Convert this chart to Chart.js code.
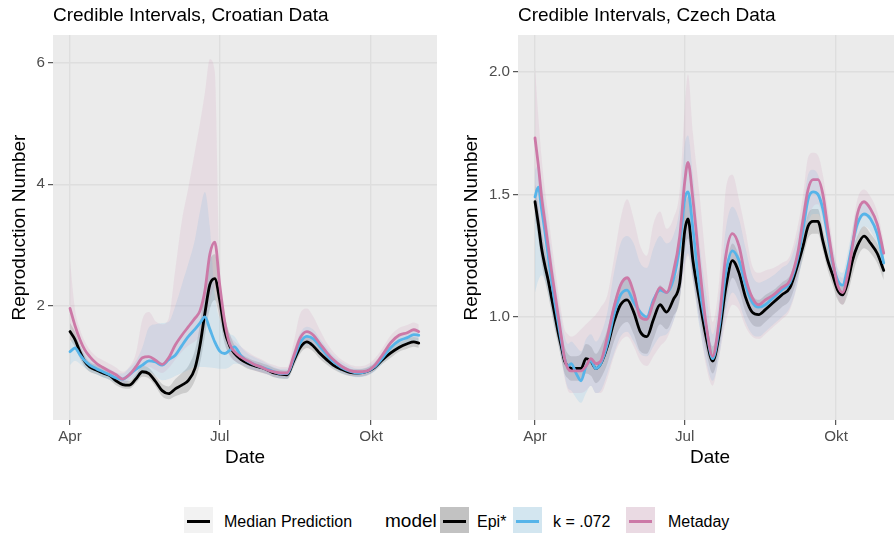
<!DOCTYPE html>
<html>
<head>
<meta charset="utf-8">
<script src="https://cdn.jsdelivr.net/npm/chart.js@4.4.1/dist/chart.umd.min.js"></script>
<style>
  html, body { margin: 0; padding: 0; background: #fff; }
  body { width: 894px; height: 533px; overflow: hidden; position: relative;
         font-family: "Liberation Sans", Arial, sans-serif; }
  canvas { position: absolute; top: 0; }
  .ttl { position: absolute; top: 5px; font-size: 19px; line-height: 19px; color: #000; white-space: nowrap; }
  .lg { position: absolute; top: 512px; font-size: 16px; line-height: 20px; color: #000; white-space: nowrap; }
  .lgt { position: absolute; top: 510px; font-size: 19px; line-height: 22px; color: #000; white-space: nowrap; }
  .key { position: absolute; top: 507px; width: 29px; height: 29px; }
  .key i { position: absolute; left: 3px; right: 3px; top: 13px; height: 3px; }
</style>
</head>
<body>
<canvas id="hr" width="447" height="480" style="left:0"></canvas>
<canvas id="cz" width="462" height="480" style="left:447px"></canvas>
<div class="ttl" style="left:53px">Credible Intervals, Croatian Data</div>
<div class="ttl" style="left:518px">Credible Intervals, Czech Data</div>

<div class="key" style="left:184px;background:#F2F2F2"><i style="background:#000"></i></div>
<div class="lg" style="left:224px">Median Prediction</div>
<div class="lgt" style="left:385px">model</div>
<div class="key" style="left:440px;background:#C2C2C2"><i style="background:#000"></i></div>
<div class="lg" style="left:477px">Epi*</div>
<div class="key" style="left:513px;background:#D3E6F0"><i style="background:#56B4E9"></i></div>
<div class="lg" style="left:553px">k = .072</div>
<div class="key" style="left:626px;background:#EADAE3"><i style="background:#CC79A7"></i></div>
<div class="lg" style="left:668px">Metaday</div>

<script>
// days since 1 April
var tickDays = [0, 91, 183];
var tickLabels = ['Apr', 'Jul', 'Okt'];

// ---- Croatian data ----
var hrDays = [0,3,6,9,12,16,20,24,28,32, 36,40,44,48,52,56,60,64,68,72,
  76,79,82,85,88,91,94,97,100,104, 108,112,116,120,124,128,132,136,140,144,
  148,152,156,160,165,170,175,180,185,190, 195,200,205,209,212];
var hrYTicks = [2, 4, 6];
var hrYLabels = ['2', '4', '6'];

var hrEpi = [1.58,1.45,1.25,1.09,1.00,0.95,0.90,0.86,0.77,0.71,
  0.70,0.80,0.92,0.89,0.76,0.61,0.56,0.64,0.70,0.78,
  0.98,1.35,1.88,2.35,2.45,2.10,1.60,1.35,1.22,1.12,
  1.06,1.02,0.99,0.95,0.90,0.88,0.87,1.10,1.32,1.41,
  1.34,1.22,1.12,1.03,0.96,0.91,0.90,0.92,0.99,1.12,
  1.23,1.32,1.38,1.41,1.39];
var hrEpiLo = [1.45,1.33,1.14,1.00,0.92,0.88,0.83,0.79,0.70,0.65,
  0.64,0.73,0.84,0.81,0.68,0.52,0.47,0.52,0.56,0.60,
  0.78,1.05,1.50,1.95,2.10,1.80,1.38,1.20,1.10,1.03,
  0.97,0.94,0.91,0.88,0.83,0.81,0.80,1.00,1.22,1.31,
  1.25,1.13,1.04,0.96,0.89,0.85,0.84,0.86,0.93,1.05,
  1.15,1.25,1.30,1.33,1.31];
var hrEpiHi = [1.72,1.58,1.36,1.18,1.08,1.03,0.97,0.93,0.84,0.78,
  0.77,0.88,1.01,0.98,0.85,0.72,0.68,0.80,0.90,1.02,
  1.28,1.70,2.35,2.75,2.85,2.40,1.85,1.55,1.36,1.22,
  1.15,1.10,1.07,1.03,0.98,0.95,0.94,1.20,1.43,1.52,
  1.44,1.31,1.20,1.10,1.03,0.97,0.96,0.98,1.05,1.19,
  1.31,1.40,1.46,1.49,1.47];

var hrK = [1.25,1.31,1.20,1.10,1.03,0.97,0.92,0.87,0.82,0.80,
  0.87,0.96,1.03,1.10,1.08,1.03,1.12,1.19,1.35,1.50,
  1.62,1.72,1.82,1.62,1.41,1.26,1.22,1.27,1.33,1.18,
  1.09,1.04,1.00,0.96,0.92,0.89,0.89,1.14,1.40,1.50,
  1.46,1.33,1.20,1.09,0.99,0.93,0.90,0.92,1.00,1.15,
  1.32,1.43,1.48,1.53,1.52];
var hrKLo = [1.03,1.10,1.05,0.98,0.93,0.88,0.83,0.79,0.74,0.71,
  0.77,0.84,0.88,0.92,0.85,0.78,0.80,0.85,0.90,0.95,
  1.00,1.00,1.00,0.99,0.98,0.97,0.97,1.00,1.05,1.04,
  0.99,0.95,0.92,0.88,0.84,0.81,0.81,1.02,1.27,1.36,
  1.32,1.20,1.08,0.99,0.90,0.86,0.83,0.85,0.92,1.06,
  1.22,1.33,1.38,1.43,1.42];
var hrKHi = [1.40,1.48,1.35,1.22,1.13,1.06,1.01,0.97,0.91,0.89,
  0.98,1.10,1.32,1.65,1.70,1.72,1.74,2.00,2.35,2.70,
  3.10,3.55,3.87,3.30,2.20,1.78,1.68,1.55,1.50,1.33,
  1.22,1.16,1.11,1.05,1.00,0.97,0.97,1.27,1.56,1.66,
  1.61,1.46,1.32,1.19,1.08,1.01,0.97,0.99,1.08,1.24,
  1.42,1.53,1.58,1.63,1.62];

var hrMeta = [1.96,1.68,1.45,1.28,1.17,1.06,0.99,0.93,0.87,0.80,
  0.87,1.00,1.15,1.17,1.11,1.04,1.15,1.36,1.52,1.66,
  1.80,1.92,2.25,2.85,3.05,2.35,1.75,1.38,1.25,1.16,
  1.10,1.04,1.00,0.95,0.92,0.90,0.90,1.18,1.48,1.58,
  1.52,1.38,1.24,1.12,1.01,0.94,0.92,0.93,1.02,1.20,
  1.40,1.52,1.56,1.61,1.58];
var hrMetaLo = [1.70,1.48,1.30,1.15,1.04,0.94,0.89,0.84,0.78,0.72,
  0.78,0.89,1.00,1.00,0.95,0.90,0.98,1.12,1.25,1.35,
  1.42,1.50,1.65,2.10,2.30,1.85,1.45,1.18,1.10,1.04,
  0.99,0.94,0.91,0.87,0.84,0.82,0.82,1.05,1.32,1.42,
  1.37,1.24,1.12,1.02,0.92,0.86,0.84,0.85,0.94,1.10,
  1.28,1.40,1.45,1.49,1.47];
var hrMetaHi = [2.75,1.95,1.62,1.42,1.28,1.17,1.11,1.05,0.99,0.92,
  1.00,1.22,1.78,1.90,1.75,1.70,1.80,2.60,3.40,3.95,
  4.55,5.00,5.50,6.05,5.85,2.70,1.85,1.55,1.42,1.33,
  1.25,1.18,1.13,1.07,1.03,1.00,1.00,1.40,1.88,1.96,
  1.82,1.60,1.40,1.25,1.12,1.04,1.01,1.03,1.13,1.31,
  1.52,1.64,1.69,1.73,1.70];

// ---- Czech data ----
var czDays = [0,2,4,6,8,10,12,14,16,18, 20,22,25,28,31,34,37,40,44,48,
  52,56,60,64,68,72,76,80,84,88, 91,93,96,100,104,108,112,116,120,124,
  128,132,136,140,145,150,155,160,163,166, 169,172,175,178,181,184,187,190,193,196,
  200,204,208,212];
var czYTicks = [1.0, 1.5, 2.0];
var czYLabels = ['1.0', '1.5', '2.0'];

var czEpi = [1.47,1.38,1.28,1.21,1.15,1.08,1.01,0.94,0.88,0.82,
  0.80,0.79,0.79,0.79,0.83,0.82,0.79,0.81,0.88,0.98,
  1.05,1.07,1.02,0.94,0.92,0.99,1.05,1.02,1.07,1.14,
  1.35,1.40,1.23,1.07,0.92,0.82,0.93,1.12,1.23,1.18,
  1.08,1.02,1.01,1.03,1.06,1.09,1.12,1.22,1.29,1.37,
  1.39,1.39,1.31,1.23,1.17,1.11,1.09,1.14,1.23,1.29,
  1.33,1.30,1.26,1.19];
var czEpiLo = [1.40,1.32,1.22,1.15,1.09,1.02,0.95,0.89,0.83,0.77,
  0.75,0.74,0.74,0.74,0.77,0.76,0.73,0.75,0.81,0.90,
  0.96,0.98,0.93,0.86,0.85,0.91,0.97,0.95,1.00,1.07,
  1.27,1.32,1.16,1.00,0.86,0.77,0.87,1.05,1.16,1.11,
  1.02,0.97,0.96,0.98,1.01,1.04,1.07,1.17,1.24,1.32,
  1.34,1.34,1.27,1.19,1.13,1.07,1.05,1.09,1.17,1.24,
  1.28,1.26,1.22,1.15];
var czEpiHi = [1.54,1.45,1.35,1.28,1.21,1.14,1.07,1.00,0.94,0.88,
  0.85,0.84,0.84,0.85,0.89,0.88,0.85,0.88,0.95,1.06,
  1.14,1.16,1.11,1.03,1.00,1.07,1.13,1.10,1.15,1.22,
  1.44,1.49,1.31,1.14,0.99,0.88,0.99,1.19,1.30,1.25,
  1.16,1.09,1.07,1.09,1.11,1.14,1.17,1.27,1.34,1.42,
  1.44,1.44,1.36,1.28,1.21,1.15,1.13,1.20,1.27,1.33,
  1.37,1.34,1.30,1.23];

var czK = [1.49,1.53,1.44,1.35,1.25,1.15,1.06,0.98,0.90,0.83,
  0.80,0.81,0.77,0.74,0.80,0.82,0.79,0.81,0.89,1.01,
  1.09,1.11,1.06,1.02,1.00,1.07,1.11,1.10,1.15,1.29,
  1.48,1.51,1.36,1.12,0.96,0.83,0.96,1.18,1.27,1.23,
  1.13,1.06,1.04,1.05,1.08,1.11,1.14,1.25,1.36,1.48,
  1.51,1.50,1.44,1.33,1.22,1.15,1.13,1.20,1.30,1.38,
  1.42,1.40,1.34,1.22];
var czKLo = [1.10,1.15,1.17,1.15,1.10,1.03,0.96,0.90,0.83,0.76,
  0.71,0.70,0.67,0.65,0.69,0.72,0.69,0.70,0.77,0.85,
  0.92,0.94,0.90,0.85,0.84,0.88,0.92,0.93,0.98,1.08,
  1.22,1.26,1.15,0.96,0.82,0.74,0.84,1.02,1.10,1.06,
  0.98,0.93,0.92,0.94,0.97,1.00,1.04,1.15,1.26,1.38,
  1.42,1.42,1.37,1.26,1.16,1.10,1.08,1.14,1.24,1.32,
  1.37,1.35,1.29,1.17];
var czKHi = [1.60,1.62,1.55,1.46,1.36,1.26,1.16,1.07,0.99,0.92,
  0.89,0.90,0.88,0.86,0.91,0.93,0.90,0.93,1.02,1.18,
  1.30,1.33,1.30,1.22,1.20,1.28,1.33,1.30,1.33,1.45,
  1.70,1.74,1.58,1.30,1.10,0.93,1.08,1.36,1.45,1.40,
  1.28,1.17,1.14,1.15,1.17,1.20,1.23,1.34,1.45,1.58,
  1.60,1.58,1.51,1.40,1.28,1.20,1.18,1.26,1.36,1.44,
  1.47,1.45,1.39,1.27];

var czMeta = [1.73,1.62,1.49,1.39,1.29,1.19,1.10,1.01,0.92,0.83,
  0.79,0.78,0.78,0.78,0.80,0.83,0.81,0.82,0.92,1.04,
  1.13,1.16,1.10,1.00,0.99,1.06,1.12,1.10,1.18,1.33,
  1.55,1.63,1.48,1.21,0.97,0.84,0.99,1.25,1.34,1.29,
  1.16,1.08,1.05,1.07,1.09,1.12,1.15,1.27,1.40,1.52,
  1.56,1.56,1.50,1.36,1.23,1.13,1.10,1.17,1.29,1.42,
  1.47,1.44,1.38,1.26];
var czMetaLo = [1.45,1.40,1.32,1.24,1.16,1.07,0.99,0.91,0.83,0.75,
  0.70,0.69,0.69,0.69,0.70,0.72,0.69,0.69,0.75,0.84,
  0.90,0.92,0.88,0.82,0.80,0.84,0.88,0.91,0.98,1.08,
  1.20,1.25,1.15,0.97,0.80,0.72,0.84,0.98,1.05,1.03,
  0.96,0.92,0.91,0.93,0.96,0.99,1.03,1.15,1.28,1.40,
  1.45,1.46,1.40,1.28,1.17,1.08,1.05,1.11,1.22,1.35,
  1.41,1.39,1.33,1.21];
var czMetaHi = [2.02,1.82,1.65,1.52,1.42,1.31,1.21,1.11,1.02,0.95,
  0.93,0.92,0.93,0.95,0.97,0.99,1.01,1.04,1.09,1.24,
  1.40,1.48,1.40,1.29,1.25,1.38,1.43,1.36,1.40,1.52,
  1.85,1.99,1.75,1.50,1.22,0.98,1.15,1.52,1.58,1.48,
  1.35,1.21,1.18,1.19,1.20,1.22,1.25,1.38,1.50,1.65,
  1.67,1.66,1.58,1.44,1.30,1.19,1.16,1.23,1.36,1.48,
  1.52,1.49,1.43,1.31];

var FONT = '"Liberation Sans", Arial, sans-serif';

var panelBg = {
  id: 'panelBg',
  beforeDraw: function(chart) {
    var a = chart.chartArea, ctx = chart.ctx;
    ctx.save();
    ctx.fillStyle = '#EBEBEB';
    ctx.fillRect(a.left, a.top, a.right - a.left, a.bottom - a.top);
    ctx.restore();
  }
};

function pts(days, vals) {
  return days.map(function(d, i) { return {x: d, y: vals[i]}; });
}

function edge(days, vals, order) {
  return { data: pts(days, vals), borderWidth: 0, borderColor: 'rgba(0,0,0,0)',
           pointRadius: 0, fill: false, order: order, cubicInterpolationMode: 'monotone' };
}

function band(days, hi, loIndex, color, order) {
  return { data: pts(days, hi), borderWidth: 0, borderColor: 'rgba(0,0,0,0)',
           backgroundColor: color, pointRadius: 0, fill: {target: loIndex},
           order: order, cubicInterpolationMode: 'monotone' };
}

function line(days, vals, color, order) {
  return { data: pts(days, vals), borderColor: color, borderWidth: 2.8, pointRadius: 0,
           fill: false, order: order, cubicInterpolationMode: 'monotone',
           borderCapStyle: 'round', borderJoinStyle: 'round' };
}

function makePanel(id, d, s, yMin, yMax, yTicks, yLabels, yWidth, yTitlePad, padRight) {
  new Chart(document.getElementById(id), {
    type: 'line',
    data: {
      datasets: [
        edge(d, s.epiLo, 30), band(d, s.epiHi, 0, 'rgba(0,0,0,0.13)', 30),
        edge(d, s.kLo, 20), band(d, s.kHi, 2, 'rgba(86,180,233,0.15)', 20),
        edge(d, s.metaLo, 10), band(d, s.metaHi, 4, 'rgba(204,121,167,0.13)', 10),
        line(d, s.epi, '#000000', 3),
        line(d, s.k, '#56B4E9', 2),
        line(d, s.meta, '#CC79A7', 1)
      ]
    },
    options: {
      responsive: false,
      animation: false,
      devicePixelRatio: 1,
      layout: { padding: { left: 0, right: padRight, top: 35, bottom: 0 } },
      plugins: { legend: { display: false }, tooltip: { enabled: false } },
      scales: {
        x: {
          type: 'linear', min: -10.34, max: 223.1,
          afterBuildTicks: function(sc) { sc.ticks = tickDays.map(function(v) { return {value: v}; }); },
          afterFit: function(sc) { sc.height = 60; },
          ticks: { autoSkip: false, maxRotation: 0, padding: 3, color: '#4D4D4D',
                   font: { family: FONT, size: 15.2 },
                   callback: function(v, i) { return tickLabels[i]; } },
          grid: { color: '#DEDEDE', lineWidth: 1.4, tickColor: '#333333', tickLength: 5, tickWidth: 1 },
          border: { display: false },
          title: { display: true, text: 'Date', color: '#000', font: { family: FONT, size: 19 },
                   padding: { top: 0, bottom: 10.6 } }
        },
        y: {
          min: yMin, max: yMax,
          afterBuildTicks: function(sc) { sc.ticks = yTicks.map(function(v) { return {value: v}; }); },
          afterFit: function(sc) { sc.width = yWidth; },
          ticks: { padding: 3, color: '#4D4D4D', font: { family: FONT, size: 15.2 },
                   callback: function(v, i) { return yLabels[i]; } },
          grid: { color: '#DEDEDE', lineWidth: 1.4, tickColor: '#333333', tickLength: 5, tickWidth: 1 },
          border: { display: false },
          title: { display: true, text: 'Reproduction Number', color: '#000',
                   font: { family: FONT, size: 19 }, padding: { top: yTitlePad, bottom: 0 } }
        }
      }
    },
    plugins: [panelBg]
  });
}

makePanel('hr', hrDays, {
  epi: hrEpi, epiLo: hrEpiLo, epiHi: hrEpiHi,
  k: hrK, kLo: hrKLo, kHi: hrKHi,
  meta: hrMeta, metaLo: hrMetaLo, metaHi: hrMetaHi
}, 0.128, 6.45, hrYTicks, hrYLabels, 53, 8, 10);

makePanel('cz', czDays, {
  epi: czEpi, epiLo: czEpiLo, epiHi: czEpiHi,
  k: czK, kLo: czKLo, kHi: czKHi,
  meta: czMeta, metaLo: czMetaLo, metaHi: czMetaHi
}, 0.58, 2.15, czYTicks, czYLabels, 71, 13, 7);
</script>
</body>
</html>
